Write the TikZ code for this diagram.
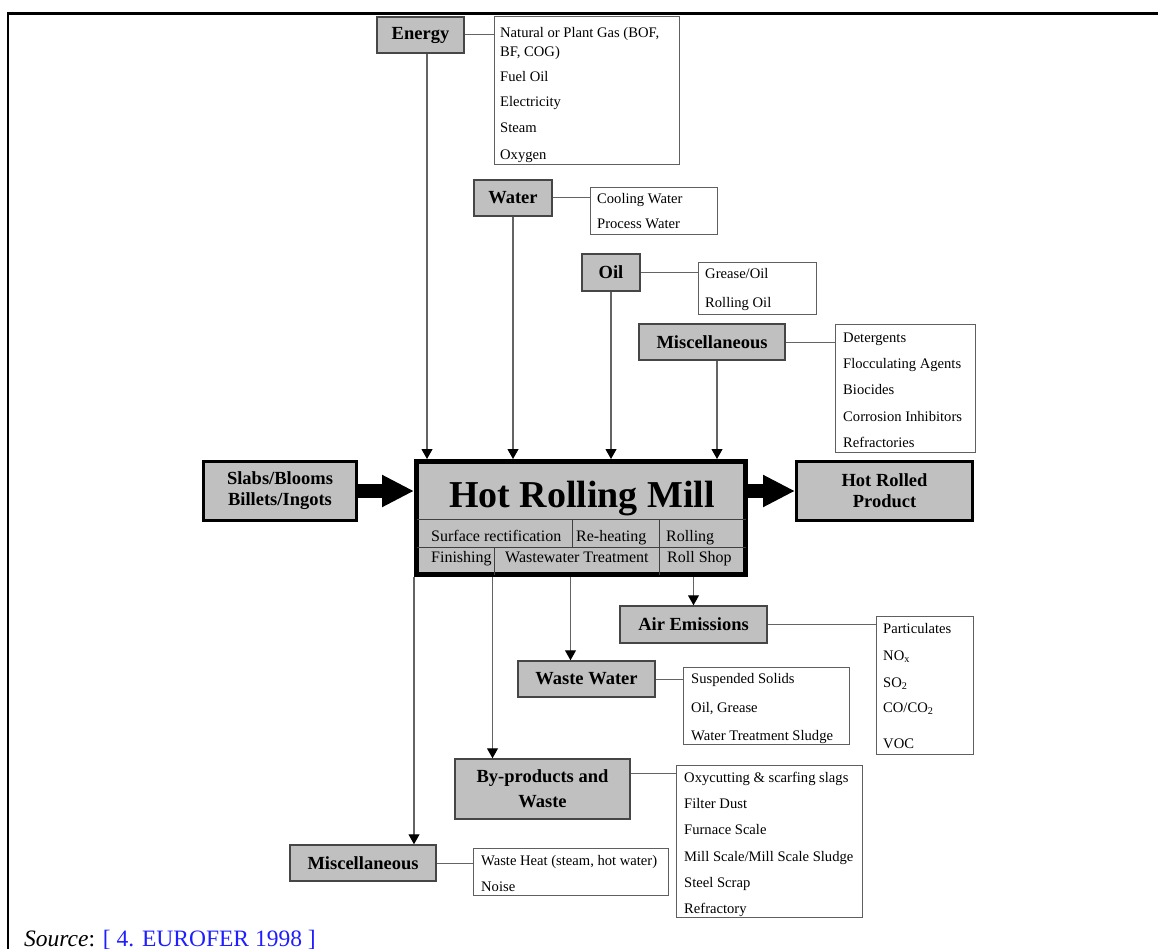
\documentclass[tikz,border=0pt]{standalone}
\usepackage{fontspec}
\setmainfont{Liberation Serif}
\usetikzlibrary{arrows.meta}
\definecolor{boxgray}{RGB}{192,192,192}
\definecolor{boxline}{RGB}{70,70,70}
\definecolor{listline}{RGB}{95,95,95}
\definecolor{connline}{RGB}{100,100,100}
\definecolor{srcblue}{RGB}{30,30,255}
\newcommand{\lblfont}{\fontsize{18.5}{21}\selectfont\bfseries}
\newcommand{\itmfont}{\fontsize{14.6}{16}\selectfont}
\newcommand{\rowfont}{\fontsize{16}{18}\selectfont}
\begin{document}
\begin{tikzpicture}[x=1pt,y=-1pt,
  lbl/.style={draw=boxline, fill=boxgray, line width=1.5pt, inner sep=0pt, font=\lblfont, align=center},
  heavy/.style={draw=black, fill=boxgray, line width=3pt, inner sep=0pt, font=\lblfont, align=center},
  lst/.style={draw=listline, fill=white, line width=1pt, inner sep=0pt},
  itm/.style={anchor=base west, inner sep=0pt, font=\itmfont},
  rowtxt/.style={anchor=base west, inner sep=0pt, font=\rowfont},
  conn/.style={draw=connline, line width=1pt},
  arr/.style={draw=connline, line width=1.1pt, -{Triangle[length=10pt,width=11pt,color=black]}},
  bigarr/.style={draw=black, line width=14pt, -{Triangle[length=32pt,width=30pt]}},
  rowline/.style={draw=black!75, line width=1pt}
]
\useasboundingbox (0,0) rectangle (1158,949);
% frame
\draw[line width=2.5pt] (8,949) -- (8,13.3) -- (1158,13.3);

% inputs
\node[lbl, minimum width=87pt, minimum height=36pt] (energy) at (420.5,35) {Energy};
\node[lst, minimum width=185pt, minimum height=148pt] (elist) at (586.5,91) {};
\node[itm] (e1) at (500,38) {Natural or Plant Gas (BOF,};
\node[itm] (e2) at (500,57) {BF, COG)};
\node[itm] (e3) at (500,82) {Fuel Oil};
\node[itm] (e4) at (500,107) {Electricity};
\node[itm] (e5) at (500,133) {Steam};
\node[itm] (e6) at (500,160) {Oxygen};
\draw[conn] (energy.east) -- (energy.east -| elist.west);

\node[lbl, minimum width=78pt, minimum height=36pt] (water) at (513,198) {Water};
\node[lst, minimum width=127pt, minimum height=47pt] (wlist) at (653.5,211.5) {};
\node[itm] (w1) at (597,204) {Cooling Water};
\node[itm] (w2) at (597,229) {Process Water};
\draw[conn] (water.east) -- (water.east -| wlist.west);

\node[lbl, minimum width=58pt, minimum height=37pt] (oil) at (611,272.5) {Oil};
\node[lst, minimum width=118pt, minimum height=51pt] (olist) at (757,288.5) {};
\node[itm] (o1) at (705,279) {Grease/Oil};
\node[itm] (o2) at (705,308) {Rolling Oil};
\draw[conn] (oil.east) -- (oil.east -| olist.west);

\node[lbl, minimum width=146pt, minimum height=36pt] (misca) at (712,342) {Miscellaneous};
\node[lst, minimum width=140pt, minimum height=128pt] (mlist) at (905,388) {};
\node[itm] (m1) at (843,342) {Detergents};
\node[itm] (m2) at (843,368) {Flocculating Agents};
\node[itm] (m3) at (843,394) {Biocides};
\node[itm] (m4) at (843,421) {Corrosion Inhibitors};
\node[itm] (m5) at (843,447) {Refractories};
\draw[conn] (misca.east) -- (misca.east -| mlist.west);

% mill
\node[draw=black, fill=boxgray, line width=5pt, minimum width=329pt, minimum height=113pt, inner sep=0pt] (mill) at (581,518) {};
\node[anchor=base, inner sep=0pt, font=\fontsize{38}{40}\selectfont\bfseries] (title) at (582,507) {Hot Rolling Mill};
\draw[rowline] (416.5,519) -- (745.5,519);
\draw[rowline] (416.5,547) -- (745.5,547);
\draw[rowline] (572,519) -- (572,547);
\draw[rowline] (659,519) -- (659,574.5);
\draw[rowline] (494,547) -- (494,574.5);
\node[rowtxt] (r1) at (431,541) {Surface rectification};
\node[rowtxt] (r2) at (576,541) {Re-heating};
\node[rowtxt] (r3) at (666,541) {Rolling};
\node[rowtxt] (r4) at (431,562) {Finishing};
\node[rowtxt] (r5) at (505,562) {Wastewater Treatment};
\node[rowtxt] (r6) at (667,562) {Roll Shop};

\node[heavy, minimum width=153pt, minimum height=59pt] (slabs) at (280,491) {Slabs/Blooms\\Billets/Ingots};
\node[heavy, minimum width=176pt, minimum height=59pt] (hrp) at (884.5,491) {Hot Rolled\\Product};
\draw[bigarr] (slabs.east) -- (slabs.east -| mill.west);
\draw[bigarr] (hrp.west -| mill.east) -- (hrp.west);

% input arrows
\coordinate (ea) at ([xshift=6.5pt]energy.south);
\draw[arr] (ea) -- (ea |- mill.north);
\draw[arr] (water.south) -- (water.south |- mill.north);
\draw[arr] (oil.south) -- (oil.south |- mill.north);
\coordinate (ma) at ([xshift=5pt]misca.south);
\draw[arr] (ma) -- (ma |- mill.north);

% outputs
\node[lbl, minimum width=147pt, minimum height=37pt] (air) at (693.5,624.5) {Air Emissions};
\node[lst, minimum width=97pt, minimum height=138pt] (alist) at (924.5,685) {};
\node[itm] (a1) at (883,633) {Particulates};
\node[itm] (a2) at (883,660) {NO\textsubscript{x}};
\node[itm] (a3) at (883,687) {SO\textsubscript{2}};
\node[itm] (a4) at (883,712) {CO/CO\textsubscript{2}};
\node[itm] (a5) at (883,748) {VOC};
\draw[conn] (air.east) -- (air.east -| alist.west);

\node[lbl, minimum width=137pt, minimum height=36pt] (ww) at (586.5,679) {Waste Water};
\node[lst, minimum width=166pt, minimum height=77pt] (wwlist) at (766,705.5) {};
\node[itm] (ww1) at (691,683) {Suspended Solids};
\node[itm] (ww2) at (691,712) {Oil, Grease};
\node[itm] (ww3) at (691,740) {Water Treatment Sludge};
\draw[conn] (ww.east) -- (ww.east -| wwlist.west);

\node[lbl, minimum width=175pt, minimum height=60pt] (bp) at (542.5,789) {By-products and\\[4pt]Waste};
\node[lst, minimum width=186pt, minimum height=152pt] (bplist) at (769,841) {};
\node[itm] (b1) at (684,782) {Oxycutting \& scarfing slags};
\node[itm] (b2) at (684,808) {Filter Dust};
\node[itm] (b3) at (684,834) {Furnace Scale};
\node[itm] (b4) at (684,861) {Mill Scale/Mill Scale Sludge};
\node[itm] (b5) at (684,887) {Steel Scrap};
\node[itm] (b6) at (684,913) {Refractory};
\coordinate (bpc) at ([yshift=16pt]bp.east);
\draw[conn] (bpc) -- (bpc -| bplist.west);

\node[lbl, minimum width=146pt, minimum height=36pt] (miscb) at (363,863) {Miscellaneous};
\node[lst, minimum width=195pt, minimum height=47pt] (m2list) at (570.5,871.5) {};
\node[itm] (n1) at (481,865) {Waste Heat (steam, hot water)};
\node[itm] (n2) at (481,891) {Noise};
\draw[conn] (miscb.east) -- (miscb.east -| m2list.west);

\coordinate (d1) at (mill.south west);
\coordinate (d2) at ([xshift=78.5pt]mill.south west);
\coordinate (d3) at ([xshift=156.5pt]mill.south west);
\coordinate (d4) at ([xshift=279.5pt]mill.south west);
\draw[arr] (d1) -- (d1 |- miscb.north);
\draw[arr] (d2) -- (d2 |- bp.north);
\draw[arr] (d3) -- (d3 |- ww.north);
\draw[arr] (d4) -- (d4 |- air.north);

\node[anchor=base west, inner sep=0pt, font=\fontsize{23.5}{26}\selectfont] (src) at (24,946) {\textit{Source}: \textcolor{srcblue}{[ 4. EUROFER 1998 ]}};
\end{tikzpicture}
\end{document}
